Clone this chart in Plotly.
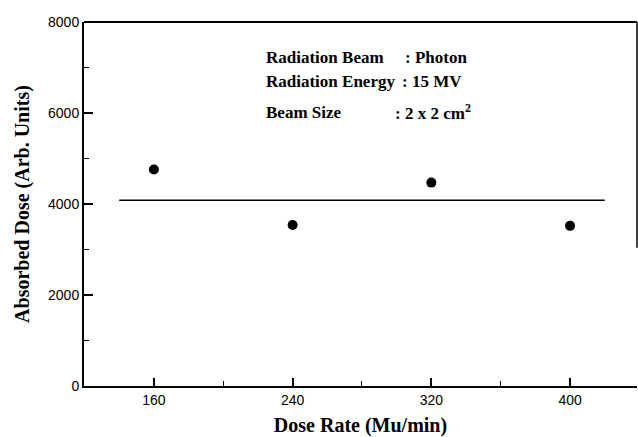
import plotly.graph_objects as go

dose_rate = [160, 240, 320, 400]
absorbed_dose = [4760, 3540, 4470, 3520]
mean_x = [140, 420]
mean_y = [4080, 4080]
x_ticks = [160, 240, 320, 400]
y_ticks = [0, 2000, 4000, 6000, 8000]

info_labels = ["Radiation Beam", "Radiation Energy", "Beam Size"]
info_values = [": Photon", ": 15 MV", ": 2 x 2 cm<sup>2</sup>"]

serif = "Liberation Serif, Times New Roman, serif"
sans = "Liberation Sans, Arial, sans-serif"

fig = go.Figure()
fig.add_trace(go.Scatter(x=mean_x, y=mean_y, mode="lines",
                         line=dict(color="black", width=1.5), showlegend=False))
fig.add_trace(go.Scatter(x=dose_rate, y=absorbed_dose, mode="markers",
                         marker=dict(color="black", size=10), showlegend=False))

# info text block (paper coords)
label_x = 264 - 84
value_x = [403, 400, 393]
line_y = [57, 81, 112]
W = 637 - 84
H = 386 - 22
for lab, val, vx, ly in zip(info_labels, info_values, value_x, line_y):
    py = (386 - ly) / H
    fig.add_annotation(x=label_x / W, y=py, xref="paper", yref="paper",
                       text="<b>%s</b>" % lab, showarrow=False,
                       xanchor="left", yanchor="middle",
                       font=dict(family=serif, size=17, color="black"))
    fig.add_annotation(x=(vx - 84) / W, y=py, xref="paper", yref="paper",
                       text="<b>%s</b>" % val, showarrow=False,
                       xanchor="left", yanchor="middle",
                       font=dict(family=serif, size=17, color="black"))

# partial right border (scanned figure)
fig.add_shape(type="line", xref="paper", yref="paper", x0=1, x1=1, y0=0.38, y1=1,
              line=dict(color="black", width=1.5))

fig.update_xaxes(range=[119.7, 438.6], tickvals=x_ticks, ticks="inside", ticklen=8,
                 tickwidth=1.5, tickcolor="black", showgrid=False, zeroline=False,
                 showline=True, linecolor="black", linewidth=2, mirror=False,
                 minor=dict(ticks="inside", ticklen=5, tickwidth=1.2, tickcolor="black",
                            dtick=40, tick0=120, showgrid=False),
                 tickfont=dict(family=sans, size=14, color="black"),
                 title=dict(text="<b>Dose Rate (Mu/min)</b>", standoff=14,
                            font=dict(family=serif, size=20, color="black")))
fig.update_yaxes(range=[0, 8000], tickvals=y_ticks, ticks="inside", ticklen=9,
                 tickwidth=1.5, tickcolor="black", showgrid=False, zeroline=False,
                 showline=True, linecolor="black", linewidth=2,
                 minor=dict(ticks="inside", ticklen=5, tickwidth=1.2, tickcolor="black",
                            dtick=1000, showgrid=False),
                 tickfont=dict(family=sans, size=14, color="black"),
                 title=dict(text="<b>Absorbed Dose (Arb. Units)</b>", standoff=13,
                            font=dict(family=serif, size=20, color="black")))

# top border
fig.add_shape(type="line", xref="paper", yref="paper", x0=0, x1=1, y0=1, y1=1,
              line=dict(color="black", width=2))

fig.update_layout(width=638, height=437, margin=dict(l=84, r=1, t=22, b=51),
                  plot_bgcolor="white", paper_bgcolor="white")

fig.write_html("out.html")
